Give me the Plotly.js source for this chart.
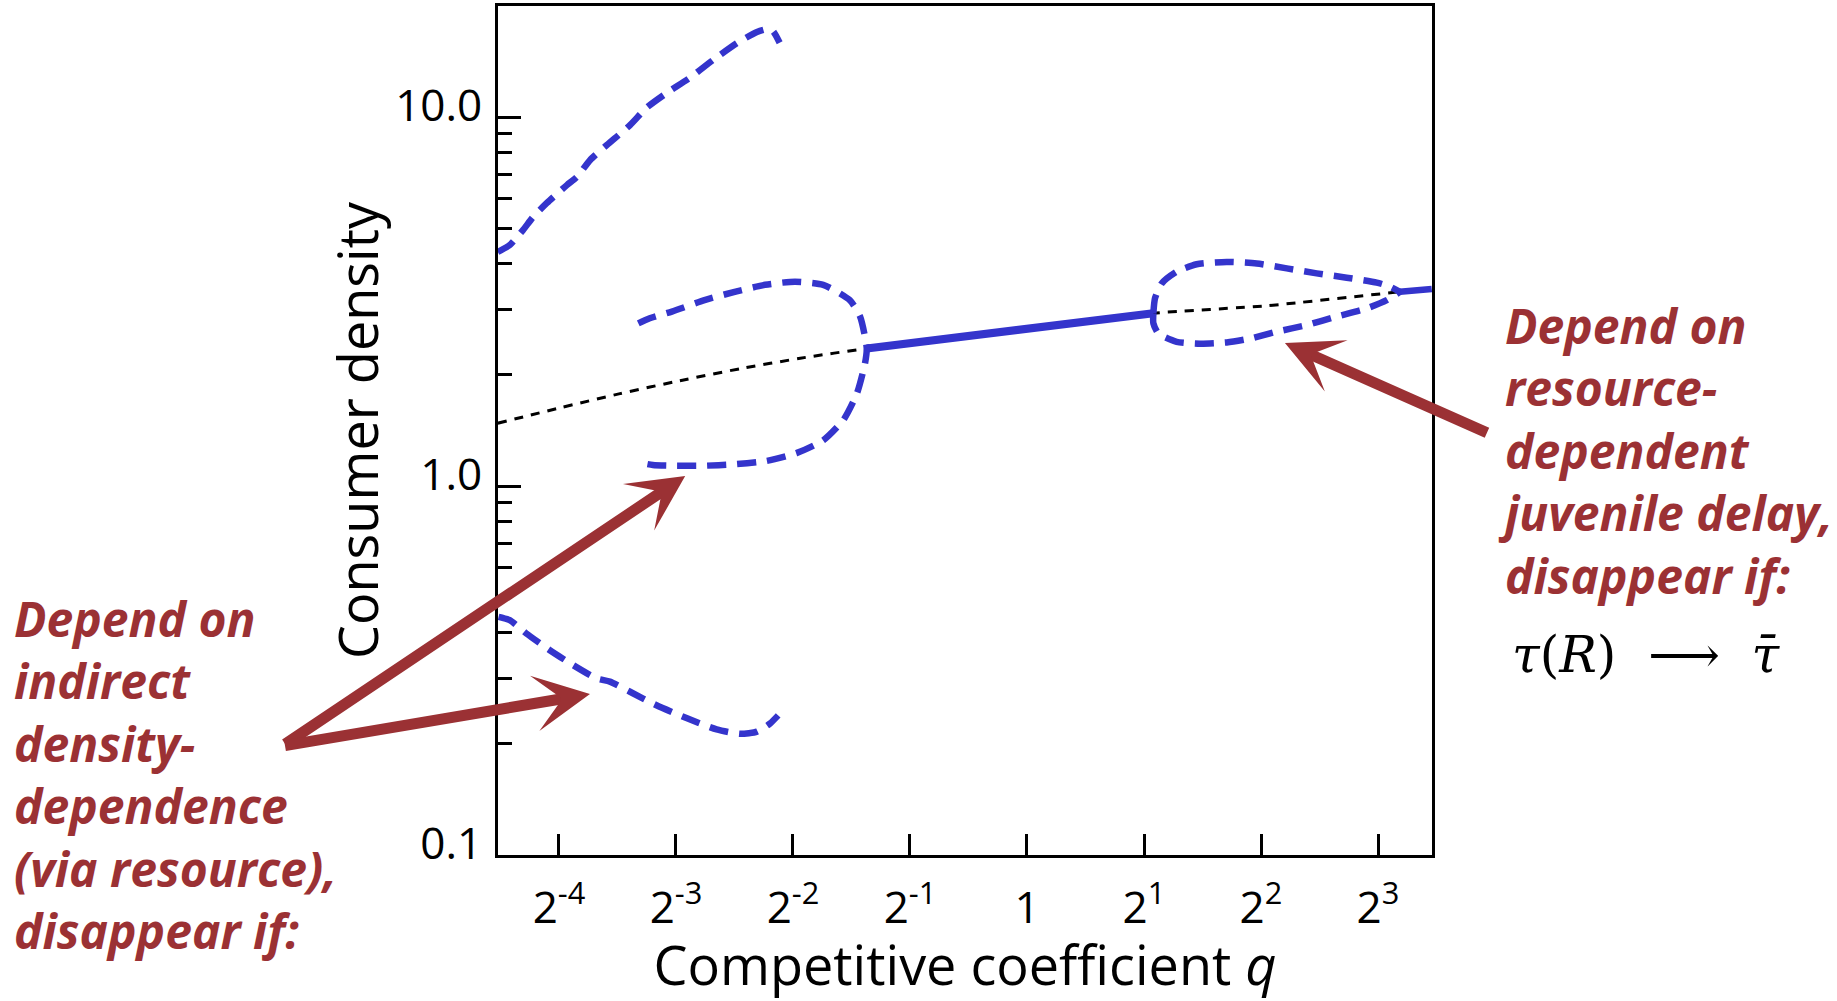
<!DOCTYPE html>
<html>
<head>
<meta charset="utf-8">
<script src="https://cdn.plot.ly/plotly-3.0.1.min.js"></script>
<style>
  html, body { margin: 0; padding: 0; background: #ffffff; }
  #chart { width: 1837px; height: 1001px; }
</style>
</head>
<body>
<div id="chart"></div>
<script>
// Equilibrium consumer density (unstable part dotted, stable part solid)
const eqQ = [0.0435, 0.0630, 0.0897, 0.128, 0.183, 0.261, 0.387, 0.904, 2.114, 4.14, 9.11, 11.0];
const eqD = [1.48, 1.63, 1.78, 1.93, 2.08, 2.22, 2.36, 2.64, 2.94, 3.08, 3.36, 3.42];

const stableQ = [0.387, 0.904, 2.114];
const stableD = [2.36, 2.64, 2.94];
const stableRightQ = [9.11, 11.0];
const stableRightD = [3.36, 3.42];

// Cycle extremes, small q: upper maximum branch
const cycUpperQ = [0.0435, 0.0467, 0.0505, 0.0536, 0.0582, 0.0655, 0.0695, 0.0751, 0.0830, 0.0952, 0.105, 0.118, 0.136, 0.156, 0.180, 0.202, 0.214, 0.222, 0.231];
const cycUpperD = [4.31, 4.50, 4.94, 5.36, 5.85, 6.54, 6.88, 7.64, 8.40, 9.51, 10.6, 11.6, 12.8, 14.3, 15.9, 17.0, 17.3, 17.1, 15.9];

// Cycle extremes, small q: lower minimum branch
const cycLowerQ = [0.0437, 0.0467, 0.0514, 0.0592, 0.0680, 0.0781, 0.0845, 0.0952, 0.111, 0.133, 0.159, 0.183, 0.202, 0.218, 0.229];
const cycLowerD = [0.442, 0.433, 0.399, 0.359, 0.327, 0.301, 0.295, 0.277, 0.255, 0.235, 0.219, 0.213, 0.216, 0.227, 0.239];

// Cycle extremes around the first Hopf point
const loopLeftQ = [0.100, 0.107, 0.122, 0.148, 0.177, 0.212, 0.253, 0.299, 0.350, 0.372, 0.383, 0.387, 0.383, 0.365, 0.337, 0.299, 0.256, 0.214, 0.176, 0.147, 0.123, 0.109, 0.101];
const loopLeftD = [2.76, 2.85, 2.97, 3.19, 3.36, 3.51, 3.58, 3.51, 3.19, 2.88, 2.54, 2.36, 2.15, 1.78, 1.51, 1.33, 1.23, 1.17, 1.145, 1.135, 1.135, 1.14, 1.157];

// Cycle extremes between the two Hopf points at large q
const loopRightUpQ = [2.114, 2.135, 2.221, 2.427, 2.732, 3.264, 3.899, 4.659, 5.564, 6.645, 7.939, 8.59, 9.11];
const loopRightUpD = [2.94, 3.23, 3.54, 3.81, 3.99, 4.05, 4.01, 3.89, 3.77, 3.67, 3.56, 3.47, 3.36];
const loopRightLoQ = [2.114, 2.114, 2.177, 2.427, 2.787, 3.264, 3.748, 4.390, 5.245, 6.264, 7.481, 8.422, 9.11];
const loopRightLoD = [2.94, 2.76, 2.59, 2.46, 2.43, 2.45, 2.51, 2.62, 2.73, 2.88, 3.03, 3.19, 3.36];

// Axis ticks
const xTickVals = [0.0625, 0.125, 0.25, 0.5, 1, 2, 4, 8];
const xTickText = ['2<sup>-4</sup>', '2<sup>-3</sup>', '2<sup>-2</sup>', '2<sup>-1</sup>', '1', '2<sup>1</sup>', '2<sup>2</sup>', '2<sup>3</sup>'];
const yTickVals = [0.1, 1, 10];
const yTickText = ['0.1', '1.0', '10.0'];
const yMinorVals = [0.2, 0.3, 0.4, 0.5, 0.6, 0.7, 0.8, 0.9, 2, 3, 4, 5, 6, 7, 8, 9];

// Where the callout arrows point (q, density)
const arrowTipQ = [0.132, 0.0751, 4.61];
const arrowTipD = [1.064, 0.273, 2.44];

const BLUE = '#3434CC';
const RED = '#9B3134';
const dashBlue = { color: BLUE, width: 6.5, dash: '19px,11px', shape: 'spline', smoothing: 0.6 };

const traces = [
  { x: eqQ, y: eqD, mode: 'lines', line: { color: '#000000', width: 3, dash: '9px,8px', shape: 'spline', smoothing: 0.5 } },
  { x: stableQ, y: stableD, mode: 'lines', line: { color: BLUE, width: 8 } },
  { x: stableRightQ, y: stableRightD, mode: 'lines', line: { color: BLUE, width: 6.5 } },
  { x: cycUpperQ, y: cycUpperD, mode: 'lines', line: dashBlue },
  { x: cycLowerQ, y: cycLowerD, mode: 'lines', line: dashBlue },
  { x: loopLeftQ, y: loopLeftD, mode: 'lines', line: dashBlue },
  { x: loopRightUpQ, y: loopRightUpD, mode: 'lines', line: dashBlue },
  { x: loopRightLoQ, y: loopRightLoD, mode: 'lines', line: dashBlue }
].map(t => Object.assign({ type: 'scatter', hoverinfo: 'skip', showlegend: false }, t));

const calloutFont = { family: 'Open Sans', size: 48, color: RED, weight: 700, style: 'italic' };

const annotations = [
  {
    xref: 'paper', yref: 'paper', x: -0.52, y: 0.319, xanchor: 'left', yanchor: 'top', align: 'left',
    showarrow: false, font: calloutFont,
    text: 'Depend on<br>indirect<br>density-<br>dependence<br>(via resource),<br>disappear if:'
  },
  {
    xref: 'paper', yref: 'paper', x: 1.0685, y: 0.664, xanchor: 'left', yanchor: 'top', align: 'left',
    showarrow: false, font: calloutFont,
    text: 'Depend on<br>resource-<br>dependent<br>juvenile delay,<br>disappear if:'
  },
  {
    xref: 'paper', yref: 'paper', x: 1.230, y: 0.2356, xanchor: 'center', yanchor: 'middle',
    showarrow: false, font: { family: 'DejaVu Serif', size: 50, color: '#000000' },
    text: '<i>τ</i>(<i>R</i>)  ⟶  <i>τ̄</i>'
  }
];

const arrowTails = [[-403, 270], [-308, 52], [205, 91]];
arrowTipQ.forEach((q, i) => {
  annotations.push({
    xref: 'x', yref: 'y', x: Math.log10(q), y: Math.log10(arrowTipD[i]),
    ax: arrowTails[i][0], ay: arrowTails[i][1], text: ' ',
    showarrow: true, arrowhead: 3, arrowsize: 0.85, arrowwidth: 11, arrowcolor: RED, standoff: 0
  });
});

const tickFont = { family: 'Open Sans', size: 44, color: '#000000' };

const layout = {
  width: 1837, height: 1001,
  paper_bgcolor: '#ffffff', plot_bgcolor: '#ffffff',
  margin: { l: 498, r: 405, t: 6, b: 146, pad: 0 },
  showlegend: false,
  xaxis: {
    type: 'log', range: [-1.361, 1.042],
    tickmode: 'array', tickvals: xTickVals, ticktext: xTickText,
    ticks: 'inside', ticklen: 21, tickwidth: 3, tickcolor: '#000000',
    showline: true, linewidth: 3, linecolor: '#000000', mirror: true,
    showgrid: false, zeroline: false,
    tickfont: tickFont, ticklabelstandoff: 12,
    title: { text: 'Competitive coefficient <i>q</i>', font: { family: 'Open Sans', size: 54, color: '#000000' }, standoff: 12 }
  },
  yaxis: {
    type: 'log', range: [-1, 1.301],
    tickmode: 'array', tickvals: yTickVals, ticktext: yTickText,
    ticks: 'inside', ticklen: 23, tickwidth: 3, tickcolor: '#000000',
    minor: { tickmode: 'array', tickvals: yMinorVals, ticks: 'inside', ticklen: 14, tickwidth: 3, tickcolor: '#000000', showgrid: false },
    showline: true, linewidth: 3, linecolor: '#000000', mirror: true,
    showgrid: false, zeroline: false,
    tickfont: tickFont, ticklabelstandoff: 4, ticklabelshift: -11,
    title: { text: 'Consumer density', font: { family: 'Open Sans', size: 54, color: '#000000' }, standoff: 0 }
  },
  annotations: annotations
};

Plotly.newPlot('chart', traces, layout, { staticPlot: true, displayModeBar: false });
</script>
</body>
</html>
